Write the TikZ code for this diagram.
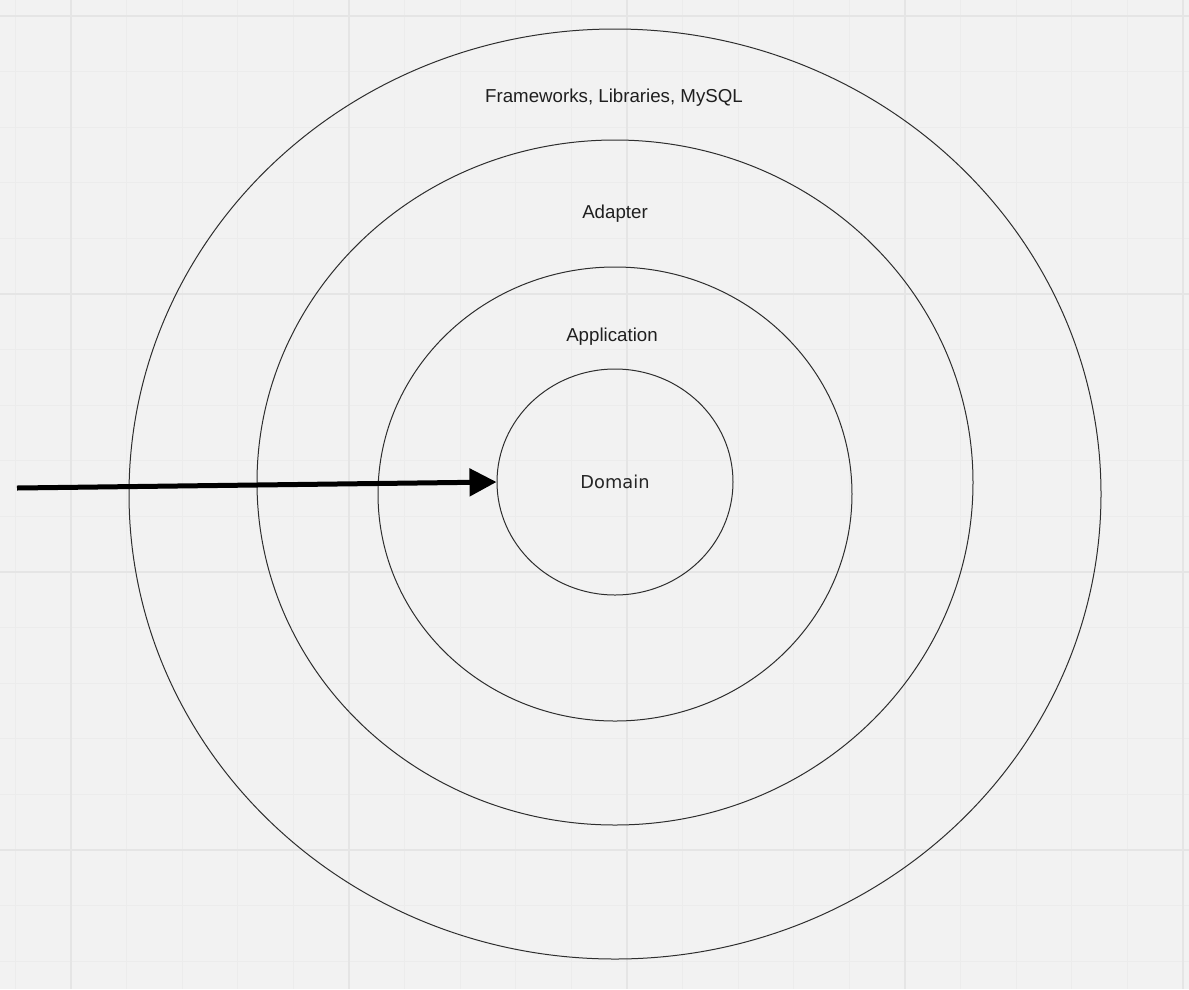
\documentclass[tikz,border=0pt]{standalone}
\usepackage{fontspec}
\setmainfont{Liberation Sans}
\newfontfamily\domainfont{DejaVu Sans}
\usetikzlibrary{arrows.meta,shapes.geometric,positioning}
\definecolor{paper}{HTML}{F2F2F2}
\definecolor{minorgrid}{HTML}{ECECEC}
\definecolor{majorgrid}{HTML}{E5E5E5}
\definecolor{ring}{HTML}{2E2E2E}
\tikzset{
    layer/.style={
           ellipse,
           draw=ring, line width=1pt,
           inner sep=0pt,
           },
    layername/.style={
           font=\fontsize{18.7}{22}\selectfont,
           text=black!88,
           inner sep=0pt,
           },
    flow/.style={
           -{Triangle[length=27pt,width=27pt]},
           line width=5pt, black,
           },
}

\begin{document}
\begin{tikzpicture}[x=1pt,y=-1pt]

  % background and grid
  \fill[paper] (0,0) rectangle (1189,989);
  \useasboundingbox (0,0) rectangle (1189,989);
  \foreach \i in {0,...,21} {
    \draw[minorgrid, line width=1pt] (15.4+55.6*\i,0) -- (15.4+55.6*\i,989);
  }
  \foreach \i in {0,...,17} {
    \draw[minorgrid, line width=1pt] (0,16+55.6*\i) -- (1189,16+55.6*\i);
  }
  \foreach \i in {0,...,4} {
    \draw[majorgrid, line width=1.2pt] (71+278*\i,0) -- (71+278*\i,989);
  }
  \foreach \i in {0,...,3} {
    \draw[majorgrid, line width=1.2pt] (0,16+278*\i) -- (1189,16+278*\i);
  }

  \node[layer, minimum width=972pt, minimum height=930pt] (frameworks) at (615,494) {};
  \node[layer, minimum width=716pt, minimum height=685pt] (adapter)    at (615,482.5) {};
  \node[layer, minimum width=474pt, minimum height=454pt] (application) at (615,494) {};
  \node[layer, minimum width=236pt, minimum height=226pt,
        font=\domainfont\fontsize{17.8}{21}\selectfont, text=black!85] (domain) at (615,482) {Domain};

  \node[layername] (frameworkstext)  at (614,97.5)  {Frameworks, Libraries, MySQL};
  \node[layername] (adaptertext)     at (615,213.5) {Adapter};
  \node[layername] (applicationtext) at (612,336.5) {Application};

  \coordinate (request) at (17,488);
  \path[flow] (request) edge (domain.west);

\end{tikzpicture}
\end{document}
